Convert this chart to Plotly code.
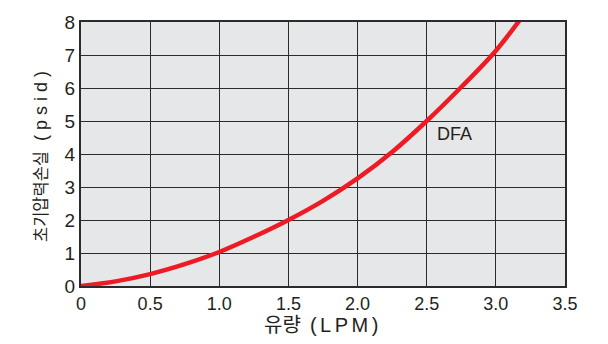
import plotly.graph_objects as go

# Flow rate (LPM) vs. initial pressure drop (psid) for the DFA element
flow_lpm = [0, 0.25, 0.5, 0.75, 1.0, 1.25, 1.5, 1.75, 2.0, 2.25, 2.5, 2.75, 3.0, 3.25]
pressure_psid = [0, 0.14, 0.36, 0.66, 1.03, 1.49, 2.0, 2.58, 3.26, 4.06, 5.0, 6.03, 7.13, 8.5]

x_ticks = [0, 0.5, 1.0, 1.5, 2.0, 2.5, 3.0, 3.5]
x_tick_text = ["0", "0.5", "1.0", "1.5", "2.0", "2.5", "3.0", "3.5"]
y_ticks = [0, 1, 2, 3, 4, 5, 6, 7, 8]

series_label = "DFA"
label_pos = (2.7, 4.6)

FONT = "Liberation Sans, Arial, Noto Sans CJK KR, sans-serif"
INK = "#231f20"
GRID = "#2b2b2b"

# axis titles: Hangul part plus a tracked Latin unit part
x_title = ('<span style="font-size:20px">유량</span>'
           '<span style="font-size:20px;letter-spacing:3.5px">&nbsp;(LPM)</span>')
y_title = ('<span style="font-size:16.5px">초기압력손실</span>'
           '<span style="font-size:18px;letter-spacing:5px">&nbsp;(psid)</span>')

fig = go.Figure()
fig.add_trace(go.Scatter(
    x=flow_lpm, y=pressure_psid, mode="lines",
    line=dict(color="#ed1c24", width=4.5, shape="spline", smoothing=1.0),
    showlegend=False, hoverinfo="skip",
))

fig.add_annotation(
    x=label_pos[0], y=label_pos[1], text=series_label, showarrow=False,
    font=dict(family=FONT, size=18, color=INK),
)

fig.update_layout(
    width=608, height=344,
    margin=dict(l=81, r=43, t=15, b=56),
    paper_bgcolor="white", plot_bgcolor="#e6e7e8",
    font=dict(family=FONT, size=18, color=INK),
)

fig.update_xaxes(
    range=[0, 3.5], tickvals=x_ticks, ticktext=x_tick_text,
    showgrid=True, gridcolor=GRID, gridwidth=1, zeroline=False,
    showline=True, linecolor=GRID, linewidth=2, mirror=True,
    ticks="", tickfont=dict(size=18, color=INK),
    title=dict(text=x_title, font=dict(size=20, color=INK), standoff=4),
)
fig.update_yaxes(
    range=[0, 8], tickvals=y_ticks,
    showgrid=True, gridcolor=GRID, gridwidth=1, zeroline=False,
    showline=True, linecolor=GRID, linewidth=2, mirror=True,
    ticks="", tickfont=dict(size=19, color=INK),
    title=dict(text=y_title, font=dict(size=18, color=INK), standoff=12),
)

fig.write_html("out.html")
